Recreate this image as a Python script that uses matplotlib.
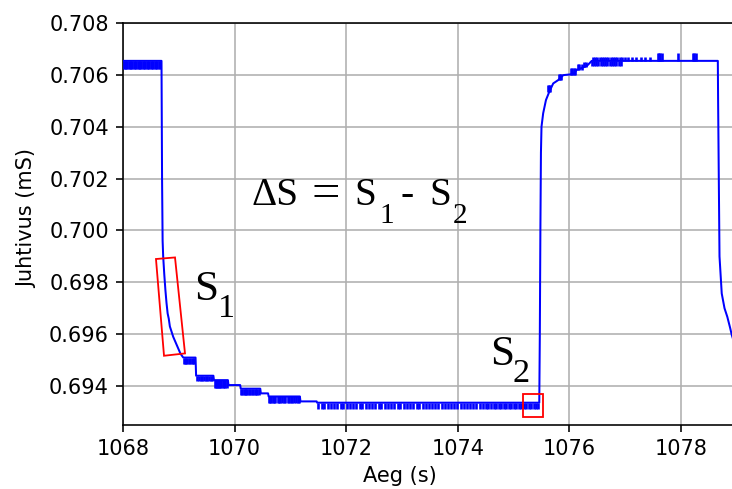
import matplotlib
matplotlib.use("Agg")
import matplotlib.pyplot as plt
from matplotlib.ticker import FormatStrFormatter
from matplotlib.patches import Polygon, Rectangle

# ---- main trace knots (time s, conductivity mS) ----
main_t = [1068.00, 1068.69, 1068.70, 1068.71, 1068.72, 1068.74, 1068.76, 1068.78,
          1068.80, 1068.82, 1068.84, 1068.87, 1068.90, 1068.94, 1068.98, 1069.03,
          1069.08, 1069.30, 1069.31, 1069.62, 1069.63, 1069.88, 1069.89, 1070.10,
          1070.11, 1070.46, 1070.47, 1070.60, 1070.61, 1071.17, 1071.18, 1071.47,
          1071.48, 1075.46, 1075.47, 1075.48, 1075.49, 1075.50, 1075.53, 1075.58,
          1075.64, 1075.71, 1075.80, 1075.89, 1076.07, 1076.13, 1076.31, 1076.37,
          1076.40, 1078.66, 1078.665, 1078.69, 1078.73, 1078.78, 1078.83, 1078.88,
          1078.91, 1078.95]
main_v = [0.70654, 0.70654, 0.7020, 0.6996, 0.6990, 0.6983, 0.6977, 0.6972,
          0.6968, 0.6966, 0.6963, 0.6961, 0.6959, 0.6957, 0.6955, 0.69525,
          0.69510, 0.69510, 0.69440, 0.69440, 0.69423, 0.69423, 0.69404, 0.69404,
          0.69390, 0.69390, 0.69372, 0.69372, 0.69360, 0.69360, 0.69341, 0.69341,
          0.69336, 0.69336, 0.6960, 0.7000, 0.7030, 0.70400, 0.70452, 0.70503,
          0.70535, 0.70567, 0.70580, 0.70599, 0.70603, 0.70619, 0.70634, 0.70647,
          0.70654, 0.70654, 0.70500, 0.69900, 0.69757, 0.69700, 0.69667, 0.69625,
          0.69597, 0.69570]

# ---- quantisation noise: bar times per level, with (low, high) of each level ----
noise_start_t = [1068.01, 1068.03, 1068.05, 1068.08, 1068.10, 1068.12, 1068.15, 1068.17,
                 1068.19, 1068.22, 1068.24, 1068.26, 1068.29, 1068.31, 1068.33, 1068.36,
                 1068.38, 1068.40, 1068.43, 1068.45, 1068.47, 1068.50, 1068.52, 1068.54,
                 1068.57, 1068.59, 1068.61, 1068.64, 1068.66]
noise_start_lv = (0.70622, 0.70654)
noise_s1a_t = [1069.09, 1069.11, 1069.13, 1069.15, 1069.18, 1069.20, 1069.23, 1069.26, 1069.28]
noise_s1a_lv = (0.69486, 0.69510)
noise_s1b_t = [1069.33, 1069.36, 1069.39, 1069.42, 1069.45, 1069.48, 1069.51, 1069.54,
               1069.57, 1069.60]
noise_s1b_lv = (0.69420, 0.69440)
noise_s1c_t = [1069.64, 1069.66, 1069.68, 1069.70, 1069.72, 1069.74, 1069.76, 1069.79,
               1069.81, 1069.83, 1069.86]
noise_s1c_lv = (0.69393, 0.69423)
noise_s1d_t = [1070.12, 1070.14, 1070.16, 1070.18, 1070.20, 1070.22, 1070.25, 1070.28,
               1070.31, 1070.33, 1070.36, 1070.39, 1070.41, 1070.44]
noise_s1d_lv = (0.69366, 0.69390)
noise_s1e_t = [1070.62, 1070.64, 1070.66, 1070.68, 1070.71, 1070.73, 1070.78, 1070.80,
               1070.82, 1070.85, 1070.88, 1070.90, 1070.95, 1070.98, 1071.01, 1071.03,
               1071.07, 1071.10, 1071.13, 1071.15]
noise_s1e_lv = (0.69336, 0.69360)
noise_base_t = [1071.50, 1071.56, 1071.61, 1071.67, 1071.73, 1071.78, 1071.84, 1071.90,
                1071.95, 1072.01, 1072.07, 1072.12, 1072.18, 1072.24, 1072.29, 1072.35,
                1072.41, 1072.46, 1072.52, 1072.58, 1072.63, 1072.69, 1072.75, 1072.80,
                1072.86, 1072.92, 1072.97, 1073.03, 1073.09, 1073.14, 1073.20, 1073.26,
                1073.31, 1073.37, 1073.43, 1073.48, 1073.54, 1073.60, 1073.65, 1073.71,
                1073.77, 1073.82, 1073.88, 1073.94, 1073.99, 1074.05, 1074.11, 1074.16,
                1074.22, 1074.28, 1074.33, 1074.39, 1074.45, 1074.50, 1074.55, 1074.59,
                1074.64, 1074.68, 1074.73, 1074.77, 1074.82, 1074.86, 1074.91, 1074.95,
                1075.00, 1075.04, 1075.09, 1075.13, 1075.18, 1075.22, 1075.27, 1075.31,
                1075.36, 1075.40, 1075.44]
noise_base_lv = (0.69312, 0.69336)
noise_rise_t = [1075.62, 1075.64, 1075.66, 1075.81, 1075.83, 1075.85, 1076.03, 1076.05,
                1076.08, 1076.10, 1076.15, 1076.18, 1076.22, 1076.26, 1076.29]
noise_rise_lo = [0.70535, 0.70535, 0.70535, 0.70580, 0.70580, 0.70580, 0.70600, 0.70600,
                 0.70600, 0.70600, 0.70620, 0.70620, 0.70620, 0.70630, 0.70630]
noise_rise_hi = [0.70562, 0.70562, 0.70562, 0.70602, 0.70602, 0.70602, 0.70625, 0.70625,
                 0.70625, 0.70625, 0.70642, 0.70642, 0.70642, 0.70650, 0.70650]
noise_top_up_t = [1076.42, 1076.46, 1076.50, 1076.54, 1076.58, 1076.62, 1076.66, 1076.70,
                  1076.74, 1076.78, 1076.82, 1076.86, 1076.90, 1076.94, 1076.99, 1077.05,
                  1077.12, 1077.20, 1077.28, 1077.36, 1077.44]
noise_top_up_lv = (0.70654, 0.70668)
noise_top_dn_t = [1076.40, 1076.44, 1076.48, 1076.52, 1076.56, 1076.60, 1076.64, 1076.68,
                  1076.72, 1076.76, 1076.80, 1076.84, 1076.88, 1076.92]
noise_top_dn_lv = (0.70636, 0.70654)
noise_late_t = [1077.59, 1077.61, 1077.63, 1077.66, 1077.94, 1078.21, 1078.23, 1078.27]
noise_late_lv = (0.70654, 0.70683)

x_ticks = [1068, 1070, 1072, 1074, 1076, 1078]
y_ticks = [0.694, 0.696, 0.698, 0.700, 0.702, 0.704, 0.706, 0.708]

# annotation boxes
s1_box = [(1068.591, 0.69890), (1068.932, 0.69896), (1069.111, 0.69526), (1068.735, 0.69517)]
s2_box = (1075.174, 0.69279, 0.356, 0.00090)

plt.rcParams["font.size"] = 10.4

W, H, DPI = 732, 489, 145
fig = plt.figure(figsize=(W / DPI, H / DPI), dpi=DPI)
ax = fig.add_axes([123 / W, 1 - 425 / H, 613.8 / W, 402 / H])

blue = "#0000ff"
ax.plot(main_t, main_v, color=blue, lw=1.0, zorder=3)

level_groups = [
    (noise_start_t, noise_start_lv), (noise_s1a_t, noise_s1a_lv),
    (noise_s1b_t, noise_s1b_lv), (noise_s1c_t, noise_s1c_lv),
    (noise_s1d_t, noise_s1d_lv), (noise_s1e_t, noise_s1e_lv),
    (noise_base_t, noise_base_lv), (noise_top_up_t, noise_top_up_lv),
    (noise_top_dn_t, noise_top_dn_lv), (noise_late_t, noise_late_lv),
]
for times, (lo, hi) in level_groups:
    ax.vlines(times, lo, hi, color=blue, lw=1.3, zorder=3)
ax.vlines(noise_rise_t, noise_rise_lo, noise_rise_hi, color=blue, lw=1.3, zorder=3)

ax.set_xlim(1068, 1079)
ax.set_ylim(0.6925, 0.708)
ax.set_xticks(x_ticks)
ax.set_yticks(y_ticks)
ax.yaxis.set_major_formatter(FormatStrFormatter("%.3f"))
ax.xaxis.set_major_formatter(FormatStrFormatter("%d"))
ax.grid(True, color="#b0b0b0", lw=0.8)
ax.set_axisbelow(True)
ax.spines["right"].set_visible(False)

ax.set_xlabel("Aeg (s)")
ax.set_ylabel("Juhtivus (mS)")
ax.xaxis.set_label_coords((400 - 123) / 613.8, -0.103)
ax.yaxis.set_label_coords((37 - 123) / 613.8, (425 - 218) / 402)

ax.add_patch(Polygon(s1_box, closed=True, fill=False, edgecolor="red", lw=0.9, zorder=4))
ax.add_patch(Rectangle(s2_box[:2], s2_box[2], s2_box[3], fill=False, edgecolor="red",
                       lw=0.9, zorder=4))

serif = "Liberation Serif"


def ptxt(x, y, s, size):
    fig.text(x / W, 1 - y / H, s, fontsize=size, family=serif, ha="left",
             va="baseline", color="black")


big = 19.5
sub = 14.5
ptxt(251.5, 205, "\u0394S", big)
ptxt(311, 207, "=", 25)
ptxt(354, 205, "S", big)
ptxt(379, 222.7, "1", sub)
ptxt(401, 205, "-", big)
ptxt(429, 205, "S", big)
ptxt(452.5, 222.7, "2", sub)

lab = 21.5
lsub = 17
ptxt(194, 299.5, "S", lab)
ptxt(218, 317.3, "1", lsub)
ptxt(490.5, 365, "S", lab)
ptxt(512.5, 381.7, "2", lsub)

fig.savefig("out.png", dpi=DPI)
